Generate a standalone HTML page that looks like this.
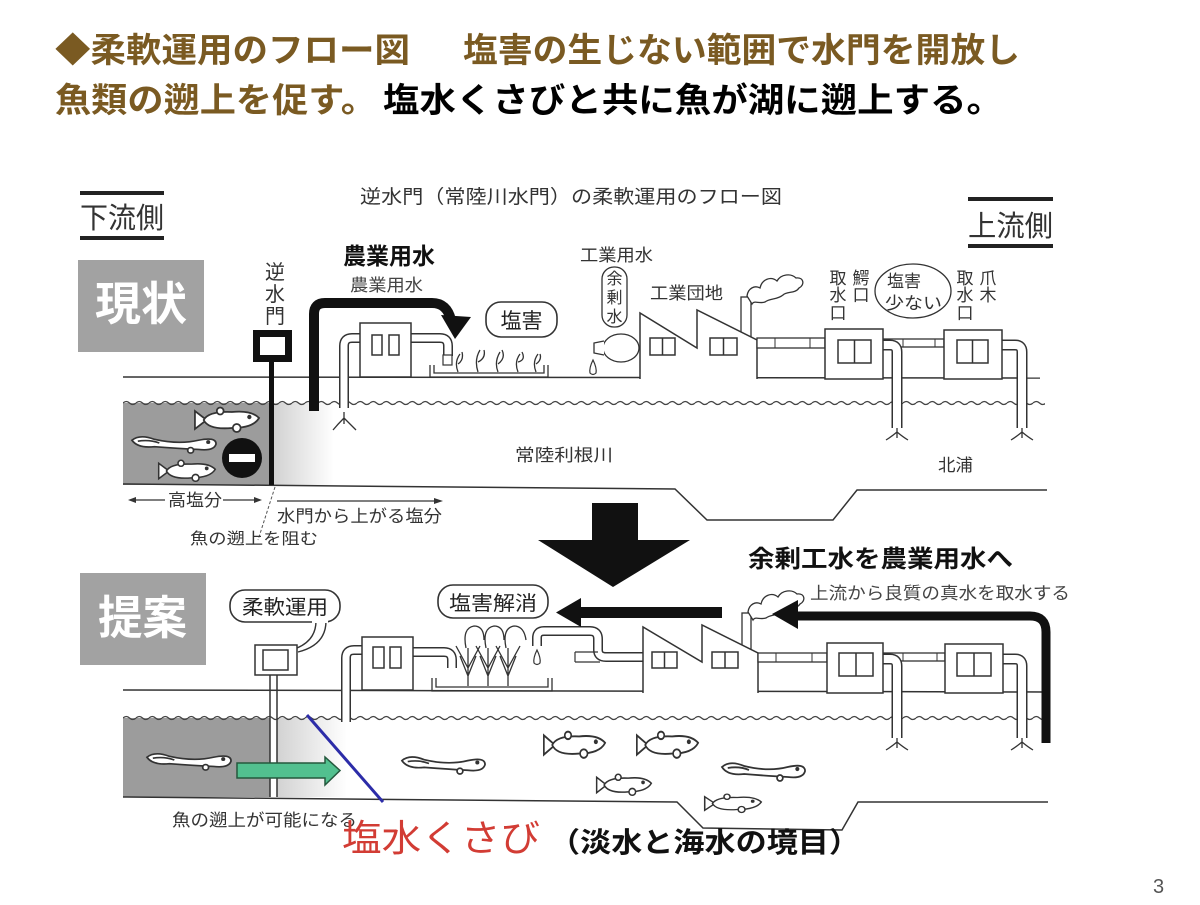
<!DOCTYPE html>
<html><head><meta charset="utf-8"><style>
html,body{margin:0;padding:0;background:#fff}
svg{display:block}
text{font-family:"Liberation Sans","Noto Sans CJK JP",sans-serif}
</style></head><body>
<svg width="1200" height="905" viewBox="0 0 1200 905" xmlns="http://www.w3.org/2000/svg">
<defs>
<pattern id="wv1" x="123" y="399" width="13" height="8" patternUnits="userSpaceOnUse"><path d="M0 4 Q3.25 1 6.5 4 T13 4" stroke="#444" fill="none" stroke-width="1.3"/></pattern>
<pattern id="wv2" x="123" y="714" width="13" height="8" patternUnits="userSpaceOnUse"><path d="M0 4 Q3.25 1 6.5 4 T13 4" stroke="#444" fill="none" stroke-width="1.3"/></pattern>
<linearGradient id="lg" x1="0" x2="1" y1="0" y2="0"><stop offset="0" stop-color="#d2d2d2"/><stop offset="1" stop-color="#ffffff"/></linearGradient>
<symbol id="fish" viewBox="0 0 70 28" preserveAspectRatio="none"><g fill="#fff" stroke="#333" stroke-width="1.8"><path d="M14 14 L2 5 L2 23 Z"/><path d="M11 14 Q16 5 40 6 Q60 4 68 12 Q62 22 40 22 Q16 24 11 14 Z"/><circle cx="45" cy="22" r="4"/><circle cx="28" cy="5" r="3.5"/><circle cx="58" cy="11" r="1.3" fill="#333"/></g></symbol>
<symbol id="eel" viewBox="0 0 90 24" preserveAspectRatio="none"><g fill="#fff" stroke="#333" stroke-width="1.8"><path d="M2 9 Q10 2 25 8 Q50 14 70 9 Q88 5 88 13 Q86 21 70 19 Q50 18 25 16 Q8 18 2 9 Z"/><path d="M8 10 Q20 8 30 12" fill="none"/><circle cx="62" cy="20" r="3"/><circle cx="80" cy="11" r="1.2" fill="#333"/></g></symbol>
</defs>

<!-- Title -->
<text x="55" y="62" font-size="34" font-weight="bold" fill="#7a5a22" textLength="355" lengthAdjust="spacingAndGlyphs">◆柔軟運用のフロー図</text>
<text x="463" y="62" font-size="34" font-weight="bold" fill="#7a5a22" textLength="557" lengthAdjust="spacingAndGlyphs">塩害の生じない範囲で水門を開放し</text>
<text x="55" y="112" font-size="34" font-weight="bold" fill="#7a5a22" textLength="322" lengthAdjust="spacingAndGlyphs">魚類の遡上を促す。</text>
<text x="383" y="112" font-size="34" font-weight="bold" fill="#000" textLength="620" lengthAdjust="spacingAndGlyphs">塩水くさびと共に魚が湖に遡上する。</text>

<!-- Diagram heading -->
<text x="360" y="203" font-size="19" fill="#333" textLength="422" lengthAdjust="spacingAndGlyphs">逆水門（常陸川水門）の柔軟運用のフロー図</text>

<!-- 下流側 / 上流側 -->
<rect x="80" y="191" width="84" height="4" fill="#222"/>
<text x="80" y="228" font-size="29" fill="#333" textLength="84" lengthAdjust="spacingAndGlyphs">下流側</text>
<rect x="80" y="236" width="84" height="4" fill="#222"/>
<rect x="968" y="197" width="85" height="4" fill="#222"/>
<text x="968" y="236" font-size="29" fill="#333" textLength="85" lengthAdjust="spacingAndGlyphs">上流側</text>
<rect x="968" y="244" width="85" height="4" fill="#222"/>

<!-- 現状 / 提案 boxes -->
<rect x="78" y="260" width="126" height="92" fill="#a2a2a2"/>
<text x="95" y="320" font-size="46" font-weight="bold" fill="#fff" textLength="92" lengthAdjust="spacingAndGlyphs">現状</text>
<rect x="80" y="573" width="126" height="92" fill="#a2a2a2"/>
<text x="98" y="634" font-size="46" font-weight="bold" fill="#fff" textLength="89" lengthAdjust="spacingAndGlyphs">提案</text>

<!-- ===== TOP PANEL ===== -->
<rect x="123" y="403" width="148" height="82" fill="#9c9c9c"/>
<rect x="274" y="403" width="60" height="82" fill="url(#lg)"/>
<rect x="123" y="399" width="922" height="8" fill="url(#wv1)"/>
<line x1="123" y1="377" x2="1040" y2="378" stroke="#333" stroke-width="1.5"/>
<polyline points="123,484 675,489 707,520 833,520 857,490 1047,490" fill="none" stroke="#333" stroke-width="1.5"/>

<!-- fish top-left -->
<use href="#fish" x="193" y="406" width="68" height="28"/>
<use href="#eel" x="130" y="432" width="88" height="22"/>
<use href="#fish" x="157" y="459" width="60" height="24"/>
<circle cx="242" cy="458" r="20" fill="#111"/>
<rect x="229" y="454" width="26" height="8" fill="#fff"/>

<!-- gate top -->
<text x="275" y="279" font-size="20" fill="#333" text-anchor="middle">逆</text>
<text x="275" y="301" font-size="20" fill="#333" text-anchor="middle">水</text>
<text x="275" y="323" font-size="20" fill="#333" text-anchor="middle">門</text>
<rect x="256.5" y="333.5" width="32" height="25" fill="#fff" stroke="#111" stroke-width="7"/>
<rect x="269" y="362" width="5" height="123" fill="#111"/>

<!-- under labels -->
<line x1="135" y1="500" x2="165" y2="500" stroke="#333" stroke-width="1.2"/>
<line x1="223" y1="500" x2="255" y2="500" stroke="#333" stroke-width="1.2"/>
<polygon points="128,500 136,497 136,503" fill="#333"/>
<polygon points="262,500 254,497 254,503" fill="#333"/>
<text x="168" y="506" font-size="17" fill="#333" textLength="54" lengthAdjust="spacingAndGlyphs">高塩分</text>
<line x1="277" y1="501" x2="436" y2="501" stroke="#333" stroke-width="1.2"/>
<polygon points="443,501 434,498 434,504" fill="#333"/>
<text x="277" y="522" font-size="17" fill="#333" textLength="165" lengthAdjust="spacingAndGlyphs">水門から上がる塩分</text>
<line x1="275" y1="487" x2="258" y2="540" stroke="#555" stroke-width="1" stroke-dasharray="3,2"/>
<text x="190" y="544" font-size="16" fill="#333" textLength="128" lengthAdjust="spacingAndGlyphs">魚の遡上を阻む</text>

<!-- 農業用水 labels and arrow -->
<text x="343" y="264" font-size="23" font-weight="bold" fill="#111" textLength="92" lengthAdjust="spacingAndGlyphs">農業用水</text>
<text x="350" y="291" font-size="17" fill="#444" textLength="73" lengthAdjust="spacingAndGlyphs">農業用水</text>
<path d="M314 411 V314 Q314 303 325 303 H432 Q447 303 451 320" fill="none" stroke="#111" stroke-width="10"/>
<polygon points="441,315 471,317 455,339" fill="#111"/>

<!-- building 1 top with pipes -->
<path d="M362 338 H352 Q344 338 344 346 V408" fill="none" stroke="#333" stroke-width="10"/>
<path d="M362 338 H352 Q344 338 344 346 V408" fill="none" stroke="#fff" stroke-width="7"/>
<path d="M344 412 V424 M344 418 Q338 424 333 430 M344 418 Q350 424 356 430" fill="none" stroke="#333" stroke-width="1.3"/>
<path d="M409 338 H440 Q448 338 448 346 V356" fill="none" stroke="#333" stroke-width="10"/>
<path d="M409 338 H440 Q448 338 448 346 V356" fill="none" stroke="#fff" stroke-width="7"/>
<rect x="443" y="355" width="9" height="10" fill="#fff" stroke="#333" stroke-width="1.2"/>
<rect x="360" y="323" width="51" height="54" fill="#fff" stroke="#333" stroke-width="1.5"/>
<rect x="372" y="335" width="10" height="20" fill="#fff" stroke="#333" stroke-width="1.5"/>
<rect x="389" y="335" width="10" height="20" fill="#fff" stroke="#333" stroke-width="1.5"/>
<!-- tray & withered plants -->
<path d="M430 365 V377 H548 V365 M434 365 V373 H544 V365" fill="none" stroke="#333" stroke-width="1.3"/>
<path d="M458 372 Q454 362 460 354 M458 364 Q464 360 462 352 M478 372 Q474 360 480 350 M478 362 Q486 358 484 350 M498 372 Q494 362 500 352 M498 364 Q506 358 502 350 M518 372 Q514 362 520 354 M518 362 Q526 360 522 352 M536 372 Q532 362 538 354 M536 364 Q542 360 540 354" fill="none" stroke="#333" stroke-width="1.3"/>
<rect x="486" y="302" width="71" height="35" rx="15" fill="#fff" stroke="#333" stroke-width="1.6"/>
<text x="521.5" y="328" font-size="21" fill="#222" text-anchor="middle">塩害</text>

<!-- bottle -->
<ellipse cx="621" cy="348" rx="18" ry="14" fill="#fff" stroke="#333" stroke-width="1.3"/>
<path d="M604 341 L594 343 V353 L604 355" fill="#fff" stroke="#333" stroke-width="1.3"/>
<path d="M593 360 Q589 368 590 373 Q593 376 596 373 Q597 368 593 360 Z" fill="#fff" stroke="#333" stroke-width="1.2"/>
<text x="580" y="261" font-size="17" fill="#333" textLength="73" lengthAdjust="spacingAndGlyphs">工業用水</text>
<rect x="602" y="267" width="25" height="60" rx="12" fill="#fff" stroke="#333" stroke-width="1.3"/>
<text x="614.5" y="284" font-size="16" fill="#333" text-anchor="middle">余</text>
<text x="614.5" y="303" font-size="16" fill="#333" text-anchor="middle">剰</text>
<text x="614.5" y="322" font-size="16" fill="#333" text-anchor="middle">水</text>
<text x="650" y="299" font-size="17" fill="#333" textLength="73" lengthAdjust="spacingAndGlyphs">工業団地</text>

<!-- factory top -->
<rect x="741" y="297" width="10" height="44" fill="#fff" stroke="#333" stroke-width="1.3"/>
<path d="M747 296 c1 -8 8 -11 13 -8 c2 -9 11 -12 17 -7 c4 -7 14 -8 19 -3 c8 -1 9 7 3 10 c-4 6 -12 3 -16 7 c-6 5 -13 3 -18 7 c-6 2 -11 -2 -13 2 z" fill="#fff" stroke="#333" stroke-width="1.3"/>
<path d="M640 379 V313 L697 348 V310 L757 340 V379" fill="#fff" stroke="#333" stroke-width="1.5"/>
<rect x="650" y="338" width="25" height="17" fill="#fff" stroke="#333" stroke-width="1.5"/><line x1="662.5" y1="338" x2="662.5" y2="355" stroke="#333" stroke-width="1.5"/>
<rect x="710" y="338" width="27" height="17" fill="#fff" stroke="#333" stroke-width="1.5"/><line x1="723.5" y1="338" x2="723.5" y2="355" stroke="#333" stroke-width="1.5"/>
<rect x="757" y="338" width="68" height="10" fill="#fff" stroke="#333" stroke-width="1.3"/>
<line x1="775" y1="338" x2="775" y2="348" stroke="#333"/><line x1="810" y1="338" x2="810" y2="348" stroke="#333"/>
<rect x="883" y="339" width="61" height="8" fill="#fff" stroke="#333" stroke-width="1.3"/>
<line x1="903" y1="339" x2="903" y2="347" stroke="#333"/><line x1="935" y1="339" x2="935" y2="347" stroke="#333"/>

<!-- building 2/3 top -->
<path d="M881 345 H890 Q897 345 897 352 V428" fill="none" stroke="#333" stroke-width="11"/>
<path d="M881 345 H890 Q897 345 897 352 V428" fill="none" stroke="#fff" stroke-width="8"/>
<path d="M1000 345 H1015 Q1022 345 1022 352 V428" fill="none" stroke="#333" stroke-width="11"/>
<path d="M1000 345 H1015 Q1022 345 1022 352 V428" fill="none" stroke="#fff" stroke-width="8"/>
<path d="M897 428 V438 M897 432 Q891 437 886 440 M897 432 Q903 437 908 440 M1022 428 V438 M1022 432 Q1016 437 1011 440 M1022 432 Q1028 437 1033 440" fill="none" stroke="#333" stroke-width="1.3"/>
<rect x="825" y="329" width="58" height="50" fill="#fff" stroke="#333" stroke-width="1.5"/>
<rect x="838" y="340" width="33" height="23" fill="#fff" stroke="#333" stroke-width="1.5"/><line x1="854.5" y1="340" x2="854.5" y2="363" stroke="#333" stroke-width="1.5"/>
<rect x="944" y="330" width="58" height="49" fill="#fff" stroke="#333" stroke-width="1.5"/>
<rect x="957" y="340" width="31" height="23" fill="#fff" stroke="#333" stroke-width="1.5"/><line x1="972.5" y1="340" x2="972.5" y2="363" stroke="#333" stroke-width="1.5"/>
<text x="838" y="284" font-size="17" fill="#333" text-anchor="middle">取</text>
<text x="838" y="301" font-size="17" fill="#333" text-anchor="middle">水</text>
<text x="838" y="319" font-size="17" fill="#333" text-anchor="middle">口</text>
<text x="861" y="284" font-size="17" fill="#333" text-anchor="middle">鰐</text>
<text x="861" y="301" font-size="17" fill="#333" text-anchor="middle">口</text>
<ellipse cx="913" cy="291" rx="38" ry="27" fill="#fff" stroke="#333" stroke-width="1.3"/>
<text x="887" y="287" font-size="17" fill="#333" textLength="34" lengthAdjust="spacingAndGlyphs">塩害</text>
<text x="885" y="309" font-size="17" fill="#333" textLength="57" lengthAdjust="spacingAndGlyphs">少ない</text>
<text x="965" y="284" font-size="17" fill="#333" text-anchor="middle">取</text>
<text x="965" y="301" font-size="17" fill="#333" text-anchor="middle">水</text>
<text x="965" y="319" font-size="17" fill="#333" text-anchor="middle">口</text>
<text x="988" y="284" font-size="17" fill="#333" text-anchor="middle">爪</text>
<text x="988" y="301" font-size="17" fill="#333" text-anchor="middle">木</text>

<text x="515" y="461" font-size="17" fill="#333" textLength="98" lengthAdjust="spacingAndGlyphs">常陸利根川</text>
<text x="938" y="471" font-size="17" fill="#333" textLength="35" lengthAdjust="spacingAndGlyphs">北浦</text>

<!-- big down arrow -->
<polygon points="592,503 638,503 638,540 690,540 613,587 538,540 592,540" fill="#111"/>

<!-- ===== BOTTOM PANEL ===== -->
<rect x="123" y="718" width="147" height="79" fill="#9c9c9c"/>
<rect x="277" y="718" width="70" height="79" fill="url(#lg)"/>
<rect x="123" y="714" width="922" height="8" fill="url(#wv2)"/>
<line x1="123" y1="690" x2="1045" y2="692" stroke="#333" stroke-width="1.5"/>
<polyline points="123,797 677,802 703,828 842,830 858,802 1048,802" fill="none" stroke="#333" stroke-width="1.5"/>

<!-- gate bottom -->
<line x1="270" y1="675" x2="270" y2="797" stroke="#333" stroke-width="1.5"/>
<line x1="277" y1="675" x2="277" y2="797" stroke="#333" stroke-width="1.5"/>
<rect x="255" y="645" width="42" height="30" fill="#fff" stroke="#333" stroke-width="1.5"/>
<rect x="263" y="650" width="25" height="20" fill="#fff" stroke="#333" stroke-width="1.5"/>
<rect x="230" y="590" width="110" height="32" rx="15" fill="#fff" stroke="#333" stroke-width="1.6"/>
<path d="M316 621 Q316 640 297 648 M326 621 Q326 645 298 652" fill="none" stroke="#333" stroke-width="1.4"/>
<rect x="312" y="619" width="16" height="4" fill="#fff"/>
<text x="242" y="614" font-size="20" fill="#222" textLength="86" lengthAdjust="spacingAndGlyphs">柔軟運用</text>

<!-- fish bottom -->
<use href="#eel" x="145" y="749" width="88" height="22"/>
<use href="#eel" x="400" y="752" width="87" height="23"/>
<use href="#fish" x="542" y="730" width="65" height="30"/>
<use href="#fish" x="635" y="730" width="65" height="30"/>
<use href="#fish" x="595" y="773" width="58" height="24"/>
<use href="#eel" x="720" y="758" width="87" height="24"/>
<use href="#fish" x="703" y="793" width="60" height="21"/>

<!-- green arrow and blue line -->
<polygon points="237,763 325,763 325,757 340,770.5 325,785 325,778 237,778" fill="#52c08f" stroke="#24583d" stroke-width="1.5"/>
<line x1="307" y1="715" x2="383" y2="802" stroke="#2c2ca8" stroke-width="3"/>

<!-- building 1 bottom -->
<path d="M364 650 H354 Q346 650 346 658 V722" fill="none" stroke="#333" stroke-width="10"/>
<path d="M364 650 H354 Q346 650 346 658 V722" fill="none" stroke="#fff" stroke-width="7"/>
<path d="M411 652 H444 Q452 652 452 660 V668" fill="none" stroke="#333" stroke-width="10"/>
<path d="M411 652 H444 Q452 652 452 660 V668" fill="none" stroke="#fff" stroke-width="7"/>
<rect x="362" y="637" width="51" height="53" fill="#fff" stroke="#333" stroke-width="1.5"/>
<rect x="373" y="647" width="11" height="21" fill="#fff" stroke="#333" stroke-width="1.5"/>
<rect x="390" y="647" width="11" height="21" fill="#fff" stroke="#333" stroke-width="1.5"/>
<path d="M432 678 V691 H552 V678 M436 678 V687 H548 V678" fill="none" stroke="#333" stroke-width="1.3"/>
<!-- reeds -->
<g fill="none" stroke="#333" stroke-width="1.3">
<path d="M468 686 V648 M468 668 L456 646 M468 668 L480 646 M468 676 L460 656 M468 676 L476 656"/>
<path d="M488 686 V648 M488 668 L476 646 M488 668 L500 646 M488 676 L480 656 M488 676 L496 656"/>
<path d="M508 686 V648 M508 668 L496 646 M508 668 L520 646 M508 676 L500 656 M508 676 L516 656"/>
<path d="M466 648 Q462 628 474 626 Q484 626 484 640 M486 648 Q482 628 494 626 Q504 626 504 640 M506 648 Q502 628 514 626 Q524 626 526 640"/>
</g>
<path d="M537 650 Q533 658 534 663 Q537 666 540 663 Q541 658 537 650 Z" fill="#fff" stroke="#333" stroke-width="1.2"/>
<path d="M537 646 V638 Q537 631 544 631 H590 Q598 631 598 639 V650 Q598 657 606 657 H645" fill="none" stroke="#333" stroke-width="10"/>
<path d="M537 646 V638 Q537 631 544 631 H590 Q598 631 598 639 V650 Q598 657 606 657 H645" fill="none" stroke="#fff" stroke-width="7"/>
<line x1="575" y1="652" x2="598" y2="652" stroke="#333" stroke-width="1.2"/><line x1="575" y1="662" x2="600" y2="662" stroke="#333" stroke-width="1.2"/><line x1="575" y1="652" x2="575" y2="662" stroke="#333" stroke-width="1.2"/>

<!-- factory bottom -->
<rect x="742" y="613" width="9" height="40" fill="#fff" stroke="#333" stroke-width="1.3"/>
<path d="M748 612 c1 -8 8 -11 13 -8 c2 -9 11 -12 17 -7 c4 -7 14 -8 19 -3 c8 -1 9 7 3 10 c-4 6 -12 3 -16 7 c-6 5 -13 3 -18 7 c-6 2 -11 -2 -13 2 z" fill="#fff" stroke="#333" stroke-width="1.3"/>
<path d="M643 693 V627 L702 662 V625 L758 653 V693" fill="#fff" stroke="#333" stroke-width="1.5"/>
<rect x="652" y="652" width="25" height="16" fill="#fff" stroke="#333" stroke-width="1.5"/><line x1="664.5" y1="652" x2="664.5" y2="668" stroke="#333" stroke-width="1.5"/>
<rect x="712" y="652" width="26" height="16" fill="#fff" stroke="#333" stroke-width="1.5"/><line x1="725" y1="652" x2="725" y2="668" stroke="#333" stroke-width="1.5"/>
<rect x="758" y="653" width="69" height="9" fill="#fff" stroke="#333" stroke-width="1.3"/>
<line x1="776" y1="653" x2="776" y2="662" stroke="#333"/><line x1="812" y1="653" x2="812" y2="662" stroke="#333"/>
<rect x="883" y="653" width="62" height="8" fill="#fff" stroke="#333" stroke-width="1.3"/>
<line x1="903" y1="653" x2="903" y2="661" stroke="#333"/><line x1="937" y1="653" x2="937" y2="661" stroke="#333"/>
<path d="M881 659 H890 Q897 659 897 666 V738" fill="none" stroke="#333" stroke-width="11"/>
<path d="M881 659 H890 Q897 659 897 666 V738" fill="none" stroke="#fff" stroke-width="8"/>
<path d="M1001 659 H1015 Q1022 659 1022 666 V738" fill="none" stroke="#333" stroke-width="11"/>
<path d="M1001 659 H1015 Q1022 659 1022 666 V738" fill="none" stroke="#fff" stroke-width="8"/>
<path d="M897 738 V748 M897 742 Q891 747 886 750 M897 742 Q903 747 908 750 M1022 738 V748 M1022 742 Q1016 747 1011 750 M1022 742 Q1028 747 1033 750" fill="none" stroke="#333" stroke-width="1.3"/>
<rect x="827" y="643" width="56" height="50" fill="#fff" stroke="#333" stroke-width="1.5"/>
<rect x="839" y="653" width="34" height="23" fill="#fff" stroke="#333" stroke-width="1.5"/><line x1="856" y1="653" x2="856" y2="676" stroke="#333" stroke-width="1.5"/>
<rect x="945" y="644" width="58" height="49" fill="#fff" stroke="#333" stroke-width="1.5"/>
<rect x="957" y="653" width="34" height="23" fill="#fff" stroke="#333" stroke-width="1.5"/><line x1="974" y1="653" x2="974" y2="676" stroke="#333" stroke-width="1.5"/>

<!-- arrows bottom -->
<rect x="577" y="607" width="145" height="11" fill="#111"/>
<polygon points="556,612.5 581,598 581,627" fill="#111"/>
<path d="M795 616 H1030 Q1046 616 1046 632 V743" fill="none" stroke="#111" stroke-width="9"/>
<polygon points="772,614 798,600 798,629" fill="#111"/>

<rect x="438" y="585" width="110" height="33" rx="15" fill="#fff" stroke="#333" stroke-width="1.6"/>
<text x="449" y="610" font-size="20" fill="#222" textLength="88" lengthAdjust="spacingAndGlyphs">塩害解消</text>
<text x="748" y="567" font-size="24" font-weight="bold" fill="#111" textLength="265" lengthAdjust="spacingAndGlyphs">余剰工水を農業用水へ</text>
<text x="810" y="599" font-size="17" fill="#444" textLength="260" lengthAdjust="spacingAndGlyphs">上流から良質の真水を取水する</text>

<text x="172" y="826" font-size="17" fill="#333" textLength="185" lengthAdjust="spacingAndGlyphs">魚の遡上が可能になる</text>
<text x="342" y="851" font-size="37" fill="#d23c34" textLength="198" lengthAdjust="spacingAndGlyphs">塩水くさび</text>
<text x="549" y="852" font-size="28" font-weight="bold" fill="#111" textLength="311" lengthAdjust="spacingAndGlyphs">（淡水と海水の境目）</text>

<text x="1153" y="893" font-size="20" fill="#555">3</text>
</svg>
</body></html>
